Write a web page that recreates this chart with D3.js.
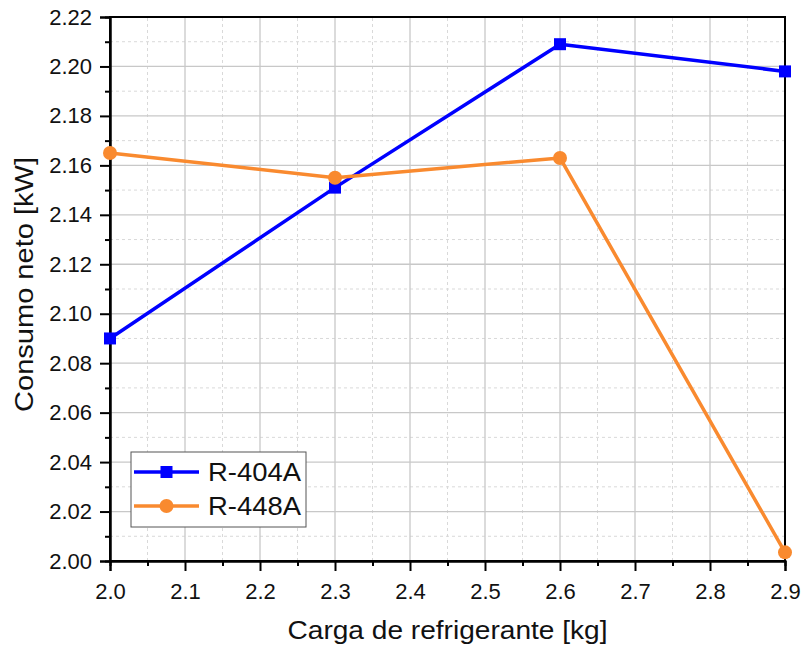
<!DOCTYPE html>
<html>
<head>
<meta charset="utf-8">
<script src="https://cdn.jsdelivr.net/npm/d3@7"></script>
<style>
  html, body { margin: 0; padding: 0; background: #fff; }
  svg { display: block; font-family: "Liberation Sans", Arial, sans-serif; }
</style>
</head>
<body>
<svg id="chart" width="803" height="649"></svg>
<script>
// Refrigerant charge [kg]
const carga = [2.0, 2.3, 2.6, 2.9];
// Net power consumption [kW]
const r404a = [2.090, 2.151, 2.209, 2.198];
const r448a = [2.165, 2.155, 2.163, 2.0035];
const xTicks = [2.0, 2.1, 2.2, 2.3, 2.4, 2.5, 2.6, 2.7, 2.8, 2.9];
const yTicks = [2.00, 2.02, 2.04, 2.06, 2.08, 2.10, 2.12, 2.14, 2.16, 2.18, 2.20, 2.22];
const seriesNames = ["R-404A", "R-448A"];

const colors = { "R-404A": "#0000FF", "R-448A": "#F98A2F" };

const margin = { left: 110, right: 18, top: 17, bottom: 88 };
const W = 803, H = 649;
const svg = d3.select("#chart");

const x = d3.scaleLinear().domain([2.0, 2.9]).range([margin.left, W - margin.right]);
const y = d3.scaleLinear().domain([2.00, 2.22]).range([H - margin.bottom, margin.top]);

const x0 = x.range()[0], x1 = x.range()[1];
const y0 = y.range()[0], y1 = y.range()[1];

// minor positions halfway between majors
const xMinor = d3.range(0, xTicks.length - 1).map(i => (xTicks[i] + xTicks[i + 1]) / 2);
const yMinor = d3.range(0, yTicks.length - 1).map(i => (yTicks[i] + yTicks[i + 1]) / 2);

const grid = svg.append("g");
// minor grid (dashed)
grid.selectAll(".gxm").data(xMinor).join("line")
  .attr("x1", d => x(d)).attr("x2", d => x(d)).attr("y1", y0).attr("y2", y1)
  .attr("stroke", "#d9d9d9").attr("stroke-width", 1).attr("stroke-dasharray", "3,3");
grid.selectAll(".gym").data(yMinor).join("line")
  .attr("x1", x0).attr("x2", x1).attr("y1", d => y(d)).attr("y2", d => y(d))
  .attr("stroke", "#d9d9d9").attr("stroke-width", 1).attr("stroke-dasharray", "3,3");
// major grid (solid)
grid.selectAll(".gx").data(xTicks.slice(1, -1)).join("line")
  .attr("x1", d => x(d)).attr("x2", d => x(d)).attr("y1", y0).attr("y2", y1)
  .attr("stroke", "#c8c8c8").attr("stroke-width", 1.3);
grid.selectAll(".gy").data(yTicks.slice(1, -1)).join("line")
  .attr("x1", x0).attr("x2", x1).attr("y1", d => y(d)).attr("y2", d => y(d))
  .attr("stroke", "#c8c8c8").attr("stroke-width", 1.3);

// frame
svg.append("rect").attr("x", x0).attr("y", y1).attr("width", x1 - x0).attr("height", y0 - y1)
  .attr("fill", "none").attr("stroke", "#000").attr("stroke-width", 2);

// axes
const xAxis = svg.append("g").attr("transform", `translate(0,${y0})`)
  .call(d3.axisBottom(x).tickValues(xTicks).tickFormat(d3.format(".1f")).tickSize(10).tickPadding(12));
const xAxisMinor = svg.append("g").attr("transform", `translate(0,${y0})`)
  .call(d3.axisBottom(x).tickValues(xMinor).tickFormat("").tickSize(5));
const yAxis = svg.append("g").attr("transform", `translate(${x0},0)`)
  .call(d3.axisLeft(y).tickValues(yTicks).tickFormat(d3.format(".2f")).tickSize(10).tickPadding(8));
const yAxisMinor = svg.append("g").attr("transform", `translate(${x0},0)`)
  .call(d3.axisLeft(y).tickValues(yMinor).tickFormat("").tickSize(5));

[xAxis, xAxisMinor, yAxis, yAxisMinor].forEach(g => {
  g.attr("font-size", null).attr("font-family", null);
  g.select(".domain").attr("stroke", "#000").attr("stroke-width", 2);
  g.selectAll(".tick line").attr("stroke", "#000").attr("stroke-width", 2);
  g.selectAll("text").style("font-size", "22px").attr("fill", "#111")
    .style("font-family", "'Liberation Sans', Arial, sans-serif");
});

// axis titles
svg.append("text").attr("x", (x0 + x1) / 2).attr("y", 639).attr("text-anchor", "middle")
  .style("font-size", "26px").attr("fill", "#111")
  .attr("textLength", 320).attr("lengthAdjust", "spacingAndGlyphs")
  .text("Carga de refrigerante [kg]");
svg.append("text").attr("transform", `translate(33,284.5) rotate(-90)`)
  .attr("text-anchor", "middle").style("font-size", "26px").attr("fill", "#111")
  .attr("textLength", 255).attr("lengthAdjust", "spacingAndGlyphs")
  .text("Consumo neto [kW]");

// series
const series = [
  { name: "R-404A", values: r404a, marker: "square" },
  { name: "R-448A", values: r448a, marker: "circle" }
];
const line = d3.line().x(d => x(d[0])).y(d => y(d[1]));

series.forEach(s => {
  const pts = carga.map((c, i) => [c, s.values[i]]);
  svg.append("path").datum(pts).attr("d", line)
    .attr("fill", "none").attr("stroke", colors[s.name]).attr("stroke-width", 3.5)
    .attr("stroke-linejoin", "round");
});
// markers drawn after lines so they sit on top
series.forEach(s => {
  const pts = carga.map((c, i) => [c, s.values[i]]);
  if (s.marker === "square") {
    svg.selectAll(null).data(pts).join("rect")
      .attr("x", d => x(d[0]) - 6).attr("y", d => y(d[1]) - 6)
      .attr("width", 12).attr("height", 12).attr("fill", colors[s.name]);
  } else {
    svg.selectAll(null).data(pts).join("circle")
      .attr("cx", d => x(d[0])).attr("cy", d => y(d[1])).attr("r", 7)
      .attr("fill", colors[s.name]);
  }
});

// legend
const lg = svg.append("g").attr("transform", "translate(131,452)");
lg.append("rect").attr("width", 175).attr("height", 75)
  .attr("fill", "#fff").attr("stroke", "#555").attr("stroke-width", 1);
series.forEach((s, i) => {
  const cy = 20 + i * 34;
  lg.append("line").attr("x1", 3).attr("x2", 68).attr("y1", cy).attr("y2", cy)
    .attr("stroke", colors[s.name]).attr("stroke-width", 3.5);
  if (s.marker === "square") {
    lg.append("rect").attr("x", 35.5 - 6).attr("y", cy - 6).attr("width", 12).attr("height", 12)
      .attr("fill", colors[s.name]);
  } else {
    lg.append("circle").attr("cx", 35.5).attr("cy", cy).attr("r", 7).attr("fill", colors[s.name]);
  }
  lg.append("text").attr("x", 77).attr("y", cy + 9).style("font-size", "25px").attr("fill", "#111")
    .attr("textLength", 93).attr("lengthAdjust", "spacingAndGlyphs")
    .text(s.name);
});
</script>
</body>
</html>
